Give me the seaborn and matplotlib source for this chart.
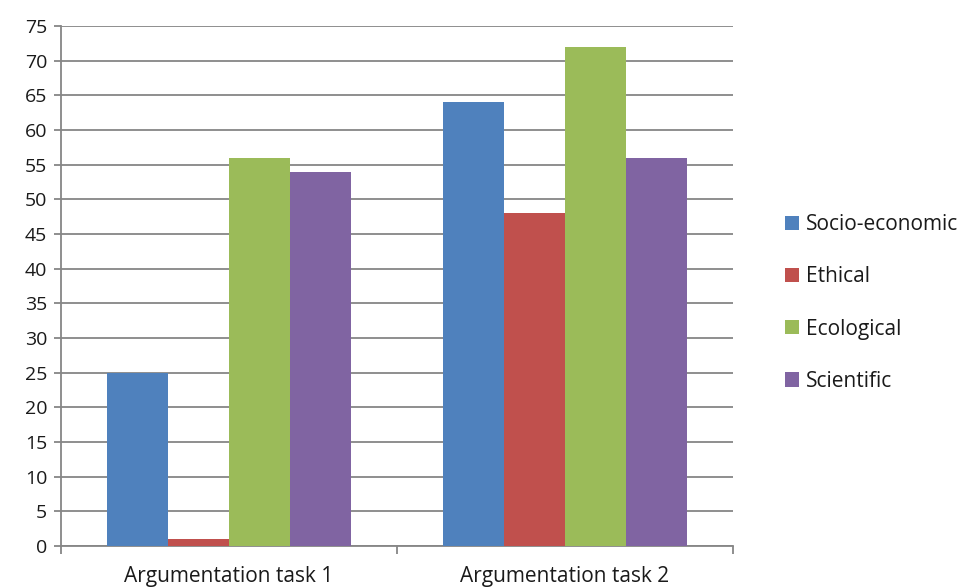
import matplotlib
matplotlib.use("Agg")
import matplotlib.pyplot as plt
import seaborn as sns
import pandas as pd

# Data
tasks = ["Argumentation task 1", "Argumentation task 2"]
categories = ["Socio-economic", "Ethical", "Ecological", "Scientific"]
socio_economic = [25, 64]
ethical = [1, 48]
ecological = [56, 72]
scientific = [54, 56]
colors = ["#4F81BD", "#C0504D", "#9BBB59", "#8064A2"]

rows = []
for cat, vals in zip(categories, [socio_economic, ethical, ecological, scientific]):
    for task, v in zip(tasks, vals):
        rows.append({"task": task, "category": cat, "value": v})
df = pd.DataFrame(rows)

sns.set_style("white")
plt.rcParams["font.family"] = ["Open Sans", "DejaVu Sans"]

fig = plt.figure(figsize=(9.63, 5.87), dpi=100)
ax = fig.add_axes([0.0633, 0.0698, 0.6978, 0.886])

sns.barplot(data=df, x="task", y="value", hue="category", order=tasks,
            hue_order=categories, palette=colors, width=0.726,
            saturation=1, linewidth=0, ax=ax, zorder=3)

ax.set_ylim(0, 75)
ax.set_yticks(range(0, 80, 5))
ax.set_xlim(-0.5, 1.5)
ax.set_xlabel("")
ax.set_ylabel("")
ax.yaxis.grid(True, color="#868686", linewidth=1.3, zorder=0)
ax.set_axisbelow(True)

for s in ["top", "right"]:
    ax.spines[s].set_visible(False)
for s in ["left", "bottom"]:
    ax.spines[s].set_color("#868686")
    ax.spines[s].set_linewidth(1.3)

ax.tick_params(axis="y", left=True, length=5, width=1.3, color="#868686",
               labelsize=14, labelcolor="#1a1a1a", pad=5)
ax.tick_params(axis="x", bottom=False, labelsize=15, labelcolor="#1a1a1a", pad=11)
# category boundary ticks on the x axis
ax.set_xticks([-0.5, 0.5, 1.5], minor=True)
ax.tick_params(axis="x", which="minor", bottom=True, length=6, width=1.3,
               color="#868686")

handles, labels = ax.get_legend_handles_labels()
ax.get_legend().remove()
fig.legend(handles, labels, loc="center left", bbox_to_anchor=(0.796, 0.484),
           frameon=False, fontsize=15, handlelength=0.67, handleheight=0.67,
           handletextpad=0.3, labelspacing=1.5, labelcolor="#1a1a1a")

fig.savefig("out.png", dpi=100)
